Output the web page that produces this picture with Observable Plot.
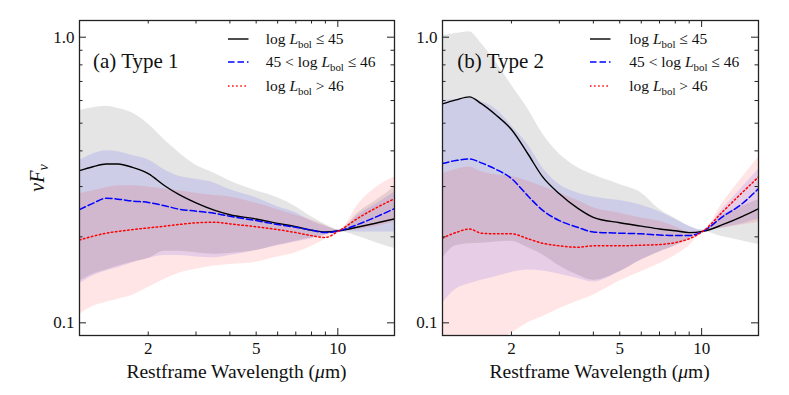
<!DOCTYPE html>
<html>
<head>
<meta charset="utf-8">
<script src="https://cdn.jsdelivr.net/npm/d3@7"></script>
<script src="https://cdn.jsdelivr.net/npm/@observablehq/plot@0.6"></script>
<style>
  html, body { margin: 0; padding: 0; background: #fff; }
  body { font-family: "Liberation Serif", "DejaVu Serif", serif; color: #111; }
  #wrap { position: relative; width: 789px; height: 395px; overflow: hidden; }
  #wrap svg.plotsvg { position: absolute; top: 0; }
  .ov { position: absolute; white-space: nowrap; line-height: 1; }
  .ov sub { font-size: 0.7em; vertical-align: -0.3em; line-height: 0; }
  .leg { font-size: 15.5px; transform: translateY(-50%); }
  .plab { font-size: 21px; transform: translateY(-50%); }
  .xlab { font-size: 19.5px; transform: translate(-50%, -50%); }
  .ylab { font-size: 20px; transform: translate(-50%, -50%) rotate(-90deg); }
</style>
</head>
<body>
<div id="wrap"></div>
<script>
// ---------------- data ----------------
const wavelength = [1.116, 1.25, 1.4, 1.55, 1.75, 2, 2.3, 2.6, 3, 3.5, 4, 5, 6, 7, 8, 9, 10.1, 12, 14, 16.18];

// (a) Type 1
const t1_le45    = [0.341,0.352,0.360,0.360,0.350,0.333,0.302,0.281,0.263,0.248,0.239,0.231,0.223,0.217,0.211,0.208,0.210,0.217,0.224,0.231];
const t1_le45_hi = [0.554,0.566,0.573,0.563,0.543,0.497,0.437,0.394,0.356,0.334,0.314,0.290,0.274,0.255,0.235,0.221,0.212,0.245,0.270,0.299];
const t1_le45_lo = [0.140,0.148,0.153,0.158,0.163,0.168,0.178,0.178,0.176,0.174,0.175,0.179,0.187,0.193,0.198,0.203,0.209,0.200,0.190,0.182];

const t1_mid     = [0.249,0.262,0.273,0.271,0.267,0.264,0.257,0.250,0.246,0.242,0.236,0.228,0.221,0.216,0.211,0.207,0.210,0.222,0.236,0.251];
const t1_mid_hi  = [0.370,0.390,0.400,0.397,0.385,0.372,0.343,0.326,0.318,0.309,0.293,0.274,0.255,0.243,0.227,0.218,0.211,0.240,0.262,0.287];
const t1_mid_lo  = [0.137,0.146,0.152,0.156,0.162,0.168,0.172,0.172,0.170,0.169,0.172,0.179,0.186,0.192,0.197,0.203,0.209,0.208,0.208,0.208];

const t1_gt46    = [0.195,0.201,0.206,0.209,0.212,0.215,0.218,0.221,0.224,0.225,0.222,0.217,0.212,0.207,0.202,0.199,0.210,0.234,0.254,0.272];
const t1_gt46_hi = [0.283,0.290,0.297,0.302,0.302,0.299,0.294,0.290,0.284,0.279,0.276,0.262,0.249,0.238,0.229,0.219,0.211,0.263,0.300,0.324];
const t1_gt46_lo = [0.107,0.114,0.118,0.121,0.125,0.133,0.142,0.149,0.154,0.158,0.160,0.163,0.170,0.176,0.185,0.196,0.208,0.212,0.218,0.225];

// (b) Type 2
const t2_le45    = [0.584,0.603,0.618,0.585,0.535,0.475,0.390,0.325,0.283,0.252,0.234,0.224,0.218,0.213,0.210,0.207,0.209,0.221,0.235,0.251];
const t2_le45_hi = [1.014,1.030,1.045,0.950,0.820,0.680,0.560,0.460,0.390,0.350,0.330,0.305,0.285,0.250,0.232,0.218,0.211,0.240,0.255,0.270];
const t2_le45_lo = [0.168,0.186,0.189,0.190,0.192,0.193,0.183,0.173,0.158,0.147,0.141,0.151,0.166,0.177,0.186,0.197,0.209,0.200,0.194,0.188];

const t2_mid     = [0.361,0.370,0.375,0.363,0.345,0.320,0.278,0.248,0.228,0.216,0.208,0.206,0.205,0.203,0.202,0.202,0.209,0.236,0.260,0.295];
const t2_mid_hi  = [0.600,0.605,0.612,0.595,0.560,0.490,0.420,0.350,0.305,0.285,0.276,0.268,0.258,0.245,0.230,0.218,0.211,0.252,0.296,0.345];
const t2_mid_lo  = [0.117,0.131,0.137,0.141,0.145,0.150,0.153,0.152,0.148,0.143,0.139,0.151,0.166,0.177,0.186,0.197,0.209,0.215,0.222,0.231];

const t2_gt46    = [0.198,0.207,0.213,0.206,0.205,0.205,0.197,0.190,0.186,0.184,0.186,0.186,0.187,0.188,0.191,0.197,0.209,0.246,0.284,0.324];
const t2_gt46_hi = [0.332,0.344,0.351,0.338,0.330,0.325,0.313,0.300,0.285,0.268,0.253,0.242,0.233,0.227,0.217,0.208,0.210,0.265,0.320,0.380];
const t2_gt46_lo = [0.080,0.082,0.084,0.086,0.088,0.092,0.100,0.105,0.112,0.119,0.125,0.140,0.151,0.161,0.172,0.186,0.208,0.215,0.220,0.225];

const panelLabels = ["(a) Type 1", "(b) Type 2"];
const xTickLabels = [2, 5, 10];
const yTickLabels = [0.1, 1.0];
const xMinorTicks = [2, 3, 4, 5, 6, 7, 8, 9];
const xMajorTicks = [10];
const yMinorTicks = [0.2, 0.3, 0.4, 0.5, 0.6, 0.7, 0.8, 0.9];
const yMajorTicks = [0.1, 1.0];
const legendLabels = [
  'log <i>L</i><sub>bol</sub> ≤ 45',
  '45 &lt; log <i>L</i><sub>bol</sub> ≤ 46',
  'log <i>L</i><sub>bol</sub> &gt; 46'
];
const xLabel = 'Restframe Wavelength (<i>μ</i>m)';
const yLabel = '<i>ν</i><i>F</i><sub><i>ν</i></sub>';

// ---------------- drawing ----------------
const X_DOMAIN = [1.116, 16.18];
const Y_DOMAIN = [0.0903, 1.144];

const styles = [
  {fill: "black", op: 0.10, stroke: "black", dash: null, sw: 1.4},
  {fill: "blue",  op: 0.10, stroke: "#0000ff", dash: "6.5,3", sw: 1.5},
  {fill: "red",   op: 0.10, stroke: "#ff0000", dash: "1.5,2.6", sw: 1.5}
];

function rowsOf(mid, lo, hi) {
  return wavelength.map((w, i) => ({w, v: mid[i], lo: lo[i], hi: hi[i]}));
}

function panel(series, o) {
  const innerW = o.width - o.ml - o.mr;
  const innerH = 395 - o.mt - o.mb;
  const tickCol = "#222";
  const marks = [];
  series.forEach((s, k) => {
    marks.push(Plot.areaY(s, {x: "w", y1: "lo", y2: "hi", fill: styles[k].fill, fillOpacity: styles[k].op,
      curve: "monotone-x", clip: true}));
  });
  series.forEach((s, k) => {
    marks.push(Plot.lineY(s, {x: "w", y: "v", stroke: styles[k].stroke, strokeWidth: styles[k].sw,
      strokeDasharray: styles[k].dash, curve: "monotone-x", clip: true}));
  });
  marks.push(
    Plot.frame({stroke: "#222", strokeWidth: 1.3}),
    // inward ticks on all four sides
    Plot.tickX(xMinorTicks, {x: d => d, insetTop: innerH - 3.5, stroke: tickCol}),
    Plot.tickX(xMinorTicks, {x: d => d, insetBottom: innerH - 3.5, stroke: tickCol}),
    Plot.tickX(xMajorTicks, {x: d => d, insetTop: innerH - 7, stroke: tickCol}),
    Plot.tickX(xMajorTicks, {x: d => d, insetBottom: innerH - 7, stroke: tickCol}),
    Plot.tickY(yMinorTicks, {y: d => d, insetRight: innerW - 3.5, stroke: tickCol}),
    Plot.tickY(yMinorTicks, {y: d => d, insetLeft: innerW - 3.5, stroke: tickCol}),
    Plot.tickY(yMajorTicks, {y: d => d, insetRight: innerW - 7, stroke: tickCol}),
    Plot.tickY(yMajorTicks, {y: d => d, insetLeft: innerW - 7, stroke: tickCol}),
    Plot.text(xTickLabels, {x: d => d, frameAnchor: "bottom", lineAnchor: "top", dy: 6, fontSize: 17,
      text: d => String(d), fill: "#111"}),
    Plot.text(yTickLabels, {y: d => d, frameAnchor: "left", textAnchor: "end", dx: -5, fontSize: 17,
      text: d => d.toFixed(1), fill: "#111"})
  );
  const svg = Plot.plot({
    width: o.width, height: 395,
    marginLeft: o.ml, marginRight: o.mr, marginTop: o.mt, marginBottom: o.mb,
    x: {type: "log", domain: X_DOMAIN, axis: null},
    y: {type: "log", domain: Y_DOMAIN, axis: null},
    style: {fontFamily: '"Liberation Serif", "DejaVu Serif", serif', color: "#111", background: "transparent", overflow: "visible"},
    marks
  });
  svg.classList.add("plotsvg");
  svg.style.left = o.left + "px";
  return svg;
}

const wrap = document.getElementById("wrap");
const p1 = [rowsOf(t1_le45, t1_le45_lo, t1_le45_hi), rowsOf(t1_mid, t1_mid_lo, t1_mid_hi), rowsOf(t1_gt46, t1_gt46_lo, t1_gt46_hi)];
const p2 = [rowsOf(t2_le45, t2_le45_lo, t2_le45_hi), rowsOf(t2_mid, t2_mid_lo, t2_mid_hi), rowsOf(t2_gt46, t2_gt46_lo, t2_gt46_hi)];
wrap.appendChild(panel(p1, {left: 0, width: 400, ml: 79, mr: 6, mt: 20, mb: 60}));
wrap.appendChild(panel(p2, {left: 400, width: 389, ml: 42, mr: 31, mt: 20, mb: 60}));

function ov(cls, html, x, y) {
  const d = document.createElement("div");
  d.className = "ov " + cls;
  d.innerHTML = html;
  d.style.left = x + "px";
  d.style.top = y + "px";
  wrap.appendChild(d);
  return d;
}
function legendLine(x1, x2, y, k) {
  const ns = "http://www.w3.org/2000/svg";
  const s = document.createElementNS(ns, "svg");
  s.setAttribute("width", x2 - x1 + 2);
  s.setAttribute("height", 6);
  s.style.position = "absolute";
  s.style.left = (x1 - 1) + "px";
  s.style.top = (y - 3) + "px";
  const l = document.createElementNS(ns, "line");
  l.setAttribute("x1", 1); l.setAttribute("x2", x2 - x1 + 1);
  l.setAttribute("y1", 3); l.setAttribute("y2", 3);
  l.setAttribute("stroke", styles[k].stroke);
  l.setAttribute("stroke-width", styles[k].sw);
  if (styles[k].dash) l.setAttribute("stroke-dasharray", styles[k].dash);
  s.appendChild(l);
  wrap.appendChild(s);
}

const legendRows = [39, 62.3, 85.7];
[{lx: 227.7, tx: 265.7, px: 93, cx: 236.5}, {lx: 590, tx: 629.3, px: 457.3, cx: 599.7}].forEach((p, i) => {
  legendRows.forEach((y, k) => {
    legendLine(p.lx, p.lx + 20.5, y, k);
    ov("leg", legendLabels[k], p.tx, y);
  });
  ov("plab", panelLabels[i], p.px, 61);
  ov("xlab", xLabel, p.cx, 371.7);
});
ov("ylab", yLabel, 36.7, 177.5);
</script>
</body>
</html>
